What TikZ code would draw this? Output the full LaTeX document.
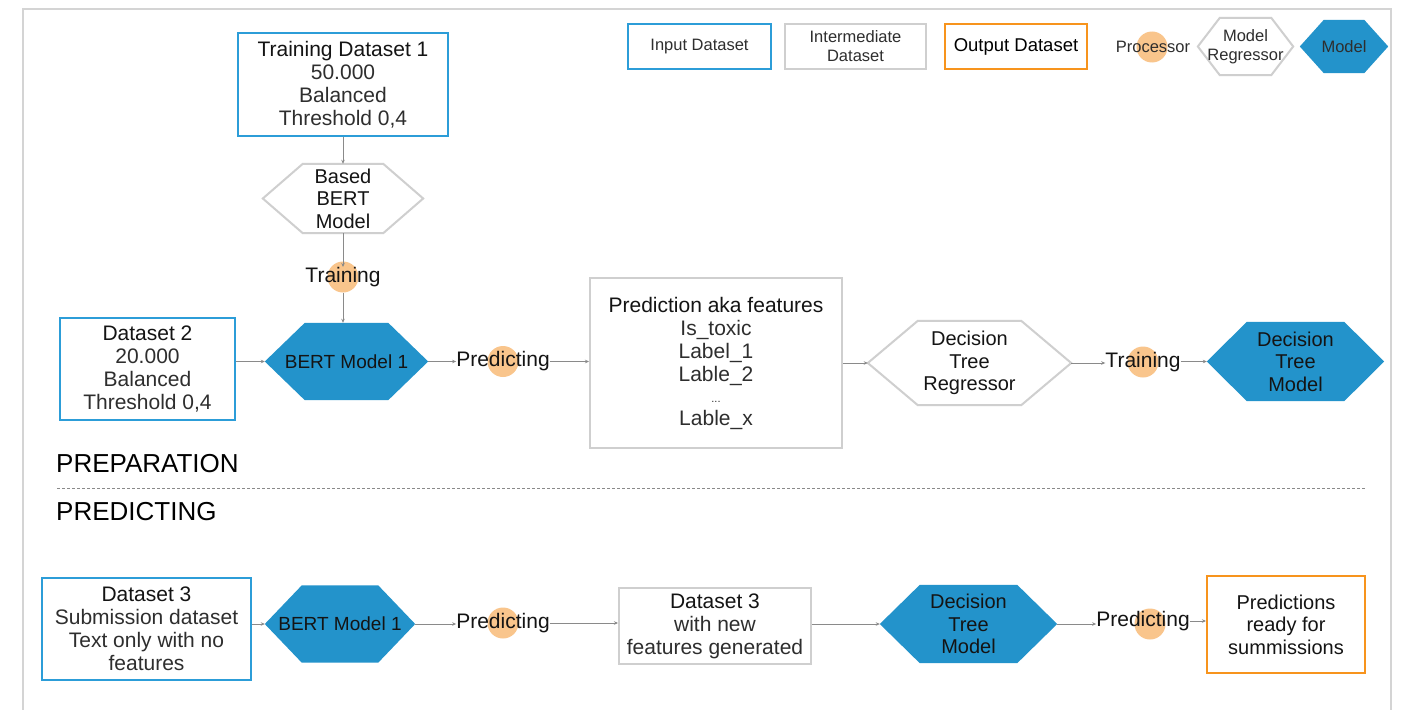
\documentclass[tikz,border=0pt]{standalone}
\usepackage{fontspec}
\setmainfont{Liberation Sans}
\usetikzlibrary{arrows.meta,backgrounds}
\definecolor{inblue}{HTML}{2C9DD8}
\definecolor{modblue}{HTML}{2393CB}
\definecolor{outorange}{HTML}{F7941D}
\definecolor{procfill}{HTML}{F9C58C}
\definecolor{midgray}{HTML}{CFCFCF}
\definecolor{framegray}{HTML}{D4D4D4}
\definecolor{arrowgray}{HTML}{8A8A8A}
\definecolor{lighttext}{HTML}{2E2E2E}
\newcommand\hexpath[3]{%
  \path[#3] (#1.west) -- ([xshift=#2]#1.north west) -- ([xshift=-#2]#1.north east)
    -- (#1.east) -- ([xshift=-#2]#1.south east) -- ([xshift=#2]#1.south west) -- cycle;}
\newcommand\lt[1]{{\color{lighttext}#1}}
\tikzset{
  txt/.style={font=\fontsize{21}{23}\selectfont, align=center, inner sep=0pt, text=black!92},
  hextxt/.style={font=\fontsize{20}{22.5}\selectfont, align=center, inner sep=0pt, text=black!92},
  legtxt/.style={font=\fontsize{16.5}{19}\selectfont, align=center, inner sep=0pt},
  inbox/.style={draw=inblue, line width=2pt, fill=white},
  midbox/.style={draw=midgray, line width=2pt, fill=white},
  outbox/.style={draw=outorange, line width=2pt, fill=white},
  procdot/.style={circle, fill=procfill, minimum size=31pt, inner sep=0pt},
  conn/.style={draw=arrowgray, line width=0.8pt, -{Stealth[length=4pt,width=3.5pt]}},
  hexmodel/.style={fill=modblue},
  hexreg/.style={draw=midgray, line width=2pt, fill=white},
}
\begin{document}
\begin{tikzpicture}[x=1pt,y=-1pt]
\useasboundingbox (0,0) rectangle (1404,709);
\begin{scope}[on background layer]
  \fill[white] (0,0) rectangle (1404,709);
  \draw[framegray, line width=2pt] (23,9) rectangle (1391,730);
\end{scope}

% ---------- legend ----------
\node[legtxt, inbox, minimum width=143pt, minimum height=45pt] (lgin) at (699.5,46.5) {\lt{Input Dataset}};
\node[legtxt, midbox, minimum width=141pt, minimum height=45pt] (lgmid) at (855.5,46.5) {\lt{Intermediate}\\\lt{Dataset}};
\node[legtxt, outbox, minimum width=142pt, minimum height=45pt, font=\fontsize{18.5}{21}\selectfont] (lgout) at (1016,46.5) {Output Dataset};
\node[procdot] (lgprocdot) at (1152,47) {};
\node[legtxt] (lgproc) at (1153,47) {\lt{Processor}};
\node[legtxt, minimum width=95pt, minimum height=57pt] (lgreg) at (1245.5,46.5) {\lt{Model}\\\lt{Regressor}};
\node[legtxt, minimum width=88pt, minimum height=53pt] (lgmod) at (1344,46.5) {\lt{Model}};

% ---------- preparation ----------
\node[txt, inbox, minimum width=210pt, minimum height=103pt] (td1) at (343,84.5)
  {Training Dataset 1\\\lt{50.000}\\\lt{Balanced}\\\lt{Threshold 0,4}};
\node[hextxt, minimum width=160pt, minimum height=69pt] (bbert) at (343,198.5) {Based\\BERT\\Model};
\node[procdot] (tr1dot) at (343,277) {};
\node[txt] (tr1) at (343,277) {Training};
\node[hextxt, font=\fontsize{19}{22}\selectfont, minimum width=163pt, minimum height=77pt] (bert1) at (346.5,361.5) {BERT Model 1};
\node[txt, inbox, minimum width=175pt, minimum height=102pt] (ds2) at (147.5,369)
  {Dataset 2\\\lt{20.000}\\\lt{Balanced}\\\lt{Threshold 0,4}};
\node[procdot] (pr1dot) at (503,361.5) {};
\node[txt] (pr1) at (503,361.5) {Predicting};
\node[txt, midbox, minimum width=252pt, minimum height=170pt] (feat) at (716,363)
  {Prediction aka features\\\lt{Is\_toxic}\\\lt{Label\_1}\\\lt{Lable\_2}\\[-2pt]{\fontsize{11}{12}\selectfont\lt{...}}\\\lt{Lable\_x}};
\node[hextxt, minimum width=203pt, minimum height=84pt] (dtr) at (969.5,363) {Decision\\Tree\\Regressor};
\node[procdot] (tr2dot) at (1143,362) {};
\node[txt] (tr2) at (1143,362) {Training};
\node[hextxt, minimum width=177pt, minimum height=79pt] (dtm1) at (1295.5,361.5) {Decision\\Tree\\Model};

\node[anchor=west, inner sep=0pt, font=\fontsize{26}{30}\selectfont] (prep) at (56,464) {PREPARATION};
\node[anchor=west, inner sep=0pt, font=\fontsize{26}{30}\selectfont] (pred) at (56,512) {PREDICTING};
\coordinate (sepL) at (57,488);
\coordinate (sepR) at (1366,488);
\draw[arrowgray, line width=1pt, dash pattern=on 3pt off 2pt] (sepL) -- (sepR);

% ---------- predicting ----------
\node[txt, inbox, minimum width=209pt, minimum height=102pt] (ds3) at (146.5,629)
  {Dataset 3\\\lt{Submission dataset}\\\lt{Text only with no}\\\lt{features}};
\node[hextxt, font=\fontsize{19}{22}\selectfont, minimum width=150pt, minimum height=77pt] (bert2) at (340,624) {BERT Model 1};
\node[procdot] (pr2dot) at (503,623) {};
\node[txt] (pr2) at (503,623) {Predicting};
\node[txt, midbox, minimum width=192pt, minimum height=76pt] (ds3f) at (715,626)
  {Dataset 3\\\lt{with new}\\\lt{features generated}};
\node[hextxt, minimum width=177pt, minimum height=78pt] (dtm2) at (968.5,624) {Decision\\Tree\\Model};
\node[procdot] (pr3dot) at (1150,624) {};
\node[txt] (pr3) at (1143,621) {Predicting};
\node[hextxt, outbox, minimum width=158pt, minimum height=97pt] (final) at (1286,624.5)
  {Predictions\\ready for\\summissions};

% ---------- hexagon outlines ----------
\begin{scope}[on background layer]
  \hexpath{lgreg}{22}{hexreg}
  \hexpath{lgmod}{24}{hexmodel}
  \hexpath{bbert}{40}{hexreg}
  \hexpath{bert1}{40}{hexmodel}
  \hexpath{dtr}{50}{hexreg}
  \hexpath{dtm1}{40}{hexmodel}
  \hexpath{bert2}{37}{hexmodel}
  \hexpath{dtm2}{40}{hexmodel}
\end{scope}

% ---------- connectors ----------
\draw[conn] (td1.south) -- (bbert.north);
\draw[conn] (bbert.south) -- (tr1.north);
\draw[conn] (tr1dot.south) -- (tr1dot.south |- bert1.north);
\draw[conn] (ds2.east |- bert1.west) -- (bert1.west);
\draw[conn] (bert1.east) -- (pr1.west |- bert1.east);
\draw[conn] (pr1.east) -- (pr1.east -| feat.west);
\draw[conn] (feat.east |- dtr.west) -- (dtr.west);
\draw[conn] (dtr.east) -- (tr2.west |- dtr.east);
\draw[conn] (tr2.east |- dtm1.west) -- (dtm1.west);

\draw[conn] (ds3.east |- bert2.west) -- (bert2.west);
\draw[conn] (bert2.east) -- (pr2.west |- bert2.east);
\draw[conn] (pr2.east) -- (pr2.east -| ds3f.west);
\draw[conn] (ds3f.east |- dtm2.west) -- (dtm2.west);
\draw[conn] (dtm2.east) -- (pr3.west |- dtm2.east);
\draw[conn] (pr3.east) -- (pr3.east -| final.west);
\end{tikzpicture}
\end{document}
